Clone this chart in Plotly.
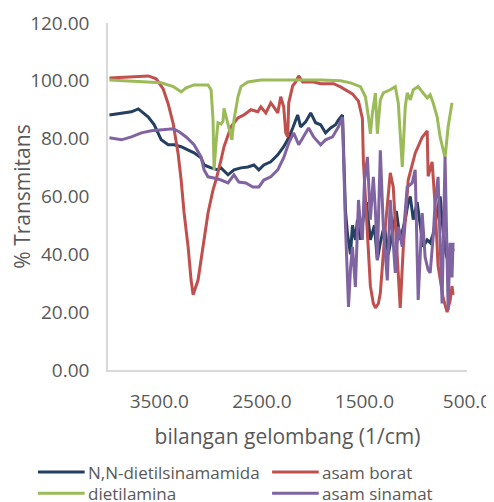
import plotly.graph_objects as go

# ---- data ----
wn_amida = [3986, 3869, 3772, 3704, 3656, 3607, 3549, 3501, 3481, 3413, 3355, 3287, 3219, 3161, 3093, 3063,
            2995, 2928, 2898, 2830, 2772, 2704, 2636, 2578, 2529, 2481, 2413, 2345, 2287, 2238, 2199, 2151,
            2122, 2073, 2024, 1976, 1927, 1879, 1830, 1782, 1753, 1714, 1685, 1665, 1636, 1617, 1588, 1568,
            1539, 1510, 1481, 1442, 1403, 1374, 1345, 1306, 1267, 1228, 1189, 1151, 1102, 1073, 1053, 1024,
            986, 956, 927, 888, 859, 830, 791, 762, 733, 704, 665, 636]
t_amida = [88.2, 88.9, 89.3, 90.3, 88.9, 87.5, 84.8, 81.3, 79.6, 77.9, 77.9, 77.2, 76.1, 75.1, 73.4, 70.9,
           69.9, 69.2, 69.9, 67.5, 69.2, 69.9, 70.2, 70.9, 69.2, 70.9, 72.0, 74.4, 77.2, 80.3, 83.7, 88.2,
           84.1, 85.8, 88.9, 85.5, 84.8, 82.0, 83.7, 84.8, 86.5, 88.2, 55.0, 47.0, 40.0, 50.0, 45.0, 52.0,
           45.0, 53.0, 58.0, 45.0, 50.0, 38.0, 44.0, 50.0, 40.0, 48.0, 55.0, 45.0, 52.0, 58.0, 60.0, 52.0,
           58.0, 50.0, 42.6, 45.0, 44.0, 47.0, 55.0, 60.0, 48.0, 40.0, 35.0, 42.0]

wn_borat = [3986, 3772, 3607, 3530, 3462, 3413, 3364, 3316, 3287, 3258, 3219, 3190, 3170, 3122, 3073, 3025,
            2976, 2947, 2898, 2869, 2801, 2733, 2675, 2607, 2539, 2510, 2461, 2413, 2384, 2345, 2316, 2287,
            2267, 2248, 2238, 2199, 2170, 2141, 2102, 1995, 1927, 1801, 1733, 1665, 1617, 1558, 1520, 1510,
            1490, 1471, 1442, 1413, 1393, 1364, 1345, 1296, 1248, 1219, 1180, 1151, 1121, 1073, 1005, 937,
            888, 879, 840, 811, 782, 733, 694, 665, 646, 636]
t_borat = [101.0, 101.4, 101.7, 100.7, 97.2, 92.0, 85.1, 74.7, 65.7, 54.3, 42.6, 31.1, 26.0, 31.1, 42.6, 54.3,
           62.3, 65.7, 72.7, 77.2, 84.1, 87.2, 88.2, 90.0, 89.3, 91.0, 88.9, 92.4, 91.0, 88.9, 94.5, 91.0,
           82.0, 80.6, 92.4, 98.3, 99.6, 101.7, 99.6, 99.6, 99.0, 99.0, 97.9, 96.5, 95.5, 93.0, 87.0, 72.0,
           60.0, 49.0, 29.0, 23.0, 21.5, 23.0, 26.6, 49.5, 68.2, 63.3, 40.0, 21.5, 42.6, 65.7, 75.0, 80.5,
           82.7, 67.0, 72.0, 57.0, 36.0, 25.0, 20.0, 24.0, 29.0, 26.0]

wn_amina = [3986, 3578, 3481, 3364, 3287, 3238, 3161, 3025, 2995, 2976, 2966, 2947, 2928, 2898, 2879, 2869,
            2850, 2821, 2792, 2772, 2733, 2704, 2636, 2510, 2248, 1927, 1733, 1636, 1539, 1490, 1461, 1442,
            1422, 1393, 1374, 1345, 1316, 1248, 1199, 1170, 1131, 1102, 1083, 1053, 1024, 976, 937, 888,
            859, 830, 791, 762, 714, 684, 646]
t_amina = [100.3, 99.6, 99.3, 98.0, 96.2, 97.6, 98.6, 98.6, 96.9, 86.5, 69.2, 78.5, 85.5, 85.0, 86.0, 90.5,
           88.0, 84.1, 79.6, 86.5, 94.5, 98.0, 99.6, 100.3, 100.3, 100.3, 100.0, 99.3, 98.0, 94.5, 87.5, 81.7,
           88.9, 95.8, 81.7, 93.4, 95.8, 96.9, 98.0, 92.4, 70.2, 91.0, 95.8, 93.4, 96.9, 98.0, 96.2, 94.1,
           95.2, 92.4, 87.5, 80.6, 73.4, 84.1, 92.4]

wn_sinamat = [3986, 3869, 3772, 3675, 3578, 3481, 3364, 3306, 3238, 3161, 3093, 3063, 3025, 2966, 2898, 2830,
              2772, 2724, 2656, 2588, 2529, 2481, 2413, 2345, 2287, 2238, 2190, 2141, 2092, 2044, 1995, 1927,
              1879, 1811, 1753, 1714, 1685, 1665, 1655, 1636, 1617, 1588, 1558, 1539, 1520, 1500, 1471, 1442,
              1413, 1393, 1374, 1345, 1316, 1296, 1277, 1248, 1219, 1199, 1170, 1131, 1102, 1083, 1034, 1005,
              976, 937, 908, 879, 859, 830, 811, 782, 743, 714, 684, 665, 646, 636]
t_sinamat = [80.3, 79.6, 80.6, 82.0, 82.7, 83.0, 83.4, 82.4, 80.6, 77.9, 73.7, 69.2, 66.8, 66.4, 65.7, 64.7,
             67.5, 65.0, 64.7, 63.3, 63.3, 65.7, 66.8, 69.2, 73.4, 78.5, 82.0, 77.9, 80.6, 83.7, 80.6, 77.9,
             79.6, 80.6, 84.1, 87.5, 50.0, 30.0, 21.8, 35.0, 42.6, 28.7, 58.8, 50.0, 45.0, 65.0, 73.7, 52.0,
             66.8, 55.0, 38.0, 76.0, 49.5, 40.0, 31.0, 58.8, 45.0, 33.6, 49.5, 42.6, 55.0, 63.3, 64.7, 69.2,
             24.2, 54.3, 39.0, 34.6, 33.6, 46.0, 57.8, 66.8, 23.0, 73.7, 20.8, 44.0, 32.0, 44.0]

series_names = ["N,N-dietilsinamamida", "asam borat", "dietilamina", "asam sinamat"]
series_colors = ["#243F60", "#C0504D", "#9BBB59", "#8064A2"]
x_title = "bilangan gelombang (1/cm)"
y_title = "% Transmitans"

xs = [wn_amida, wn_borat, wn_amina, wn_sinamat]
ys = [t_amida, t_borat, t_amina, t_sinamat]

FONT = "Open Sans"
GRAY = "#595959"

fig = go.Figure()
for name, color, x, y in zip(series_names, series_colors, xs, ys):
    fig.add_trace(go.Scatter(x=x, y=y, mode="lines", name=name, showlegend=False,
                             line=dict(color=color, width=3)))

# legend drawn as shapes + text below the plot (2 columns, row-major order)
leg_col_x = [-0.195, 0.457]     # paper x of line sample start
leg_line_len = 0.13
leg_row_y = [-0.294, -0.355]
for i, (name, color) in enumerate(zip(series_names, series_colors)):
    col, row = i % 2, i // 2
    x0 = leg_col_x[col]
    yy = leg_row_y[row]
    fig.add_shape(type="line", xref="paper", yref="paper", x0=x0, x1=x0 + leg_line_len, y0=yy, y1=yy,
                  line=dict(color=color, width=3))
    fig.add_annotation(xref="paper", yref="paper", x=x0 + leg_line_len + 0.006, y=yy, text=name,
                       showarrow=False, xanchor="left", yanchor="middle", borderpad=0,
                       font=dict(size=17, color=GRAY, family=FONT))

fig.update_layout(
    width=486, height=494,
    margin=dict(l=100, r=27, t=15, b=132),
    paper_bgcolor="white", plot_bgcolor="white",
    font=dict(family=FONT, color=GRAY),
    showlegend=False,
    xaxis=dict(range=[4000, 500], tickmode="linear", tick0=500, dtick=1000, tickformat=".1f",
               showgrid=False, zeroline=False, showline=True, linecolor="#D9D9D9", linewidth=1.5,
               ticks="", ticklabelstandoff=13, tickfont=dict(size=19, color=GRAY, family=FONT),
               automargin=False,
               title=dict(text=x_title, font=dict(size=21, color=GRAY, family=FONT), standoff=17)),
    yaxis=dict(range=[0, 120], tickmode="linear", tick0=0, dtick=20, tickformat=".2f",
               showgrid=False, zeroline=False, showline=True, linecolor="#D9D9D9", linewidth=1.5,
               ticks="", ticklabelstandoff=13, tickfont=dict(size=19, color=GRAY, family=FONT),
               automargin=False,
               title=dict(text=y_title, font=dict(size=21, color=GRAY, family=FONT), standoff=5)),
)

fig.write_html("out.html")
